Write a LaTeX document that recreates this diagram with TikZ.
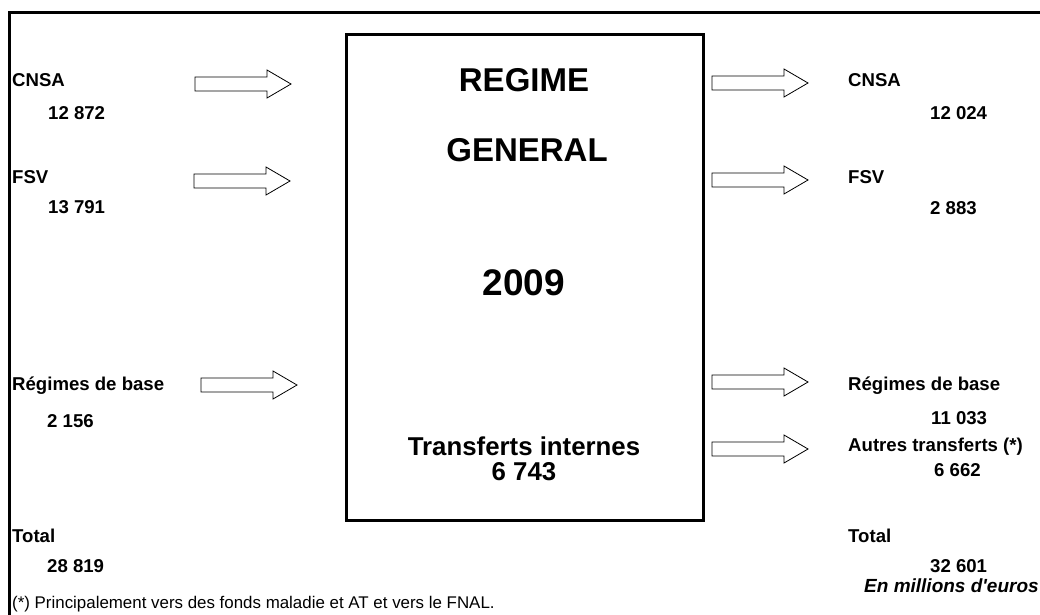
\documentclass[tikz,border=0pt]{standalone}
\usepackage{fontspec}
\setmainfont{Liberation Sans}
\begin{document}
\begin{tikzpicture}[x=1pt,y=-1pt,
  lbl/.style={anchor=west,inner sep=0pt,font=\bfseries\fontsize{18.6}{21}\selectfont},
  big/.style={inner sep=0pt,font=\bfseries\fontsize{33}{38}\selectfont},
  mid/.style={inner sep=0pt,font=\bfseries\fontsize{25.8}{30}\selectfont},
  note/.style={anchor=west,inner sep=0pt,font=\fontsize{16.9}{19}\selectfont},
  fatarrow/.pic={\draw[line width=0.8pt,fill=white] (0,-7)--(72,-7)--(72,-14)--(96,0)--(72,14)--(72,7)--(0,7)--cycle;}]
\useasboundingbox (0,0) rectangle (1040,614);
% outer frame
\draw[line width=3pt] (9,616)--(9,12)--(1042,12);
% central box
\node[draw,line width=3pt,minimum width=357pt,minimum height=486pt,inner sep=0pt] (box) at (524.5,277) {};
\node[big] (regime) at (524,80) {REGIME};
\node[big] (general) at (527,150) {GENERAL};
\node[big,font=\bfseries\fontsize{37}{42}\selectfont] (year) at (524,283) {2009};
\node[mid] (ti) at (524,446) {Transferts internes};
\node[mid] (tiv) at (524,472) {6 743};
% left side
\node[lbl] (lcnsa) at (12,80) {CNSA};
\node[lbl] (lcnsav) at (48,113) {12 872};
\node[lbl] (lfsv) at (12,177) {FSV};
\node[lbl] (lfsvv) at (48,207) {13 791};
\node[lbl] (lrb) at (12,386) {Régimes de base};
\node[lbl] (lrbv) at (47,421) {2 156};
\node[lbl] (ltot) at (12,536) {Total};
\node[lbl] (ltotv) at (47,566) {28 819};
\node[note] (foot) at (12,604) {(*) Principalement vers des fonds maladie et AT et vers le FNAL.};
% right side
\node[lbl] (rcnsa) at (848,80) {CNSA};
\node[lbl] (rcnsav) at (930,113) {12 024};
\node[lbl] (rfsv) at (848,177) {FSV};
\node[lbl] (rfsvv) at (930,208) {2 883};
\node[lbl] (rrb) at (848,386) {Régimes de base};
\node[lbl] (rrbv) at (931,418) {11 033};
\node[lbl] (raut) at (848,447) {Autres transferts (*)};
\node[lbl] (rautv) at (934,470) {6 662};
\node[lbl] (rtot) at (848,536) {Total};
\node[lbl] (rtotv) at (930,566) {32 601};
\node[lbl,font=\bfseries\itshape\fontsize{19}{22}\selectfont] (unit) at (864,586) {En millions d\textquotesingle euros};
% arrows
\pic at (195,84) {fatarrow};
\pic at (194,181) {fatarrow};
\pic at (201,385) {fatarrow};
\pic at (712,83) {fatarrow};
\pic at (712,180) {fatarrow};
\pic at (712,382) {fatarrow};
\pic at (712,449) {fatarrow};
\end{tikzpicture}
\end{document}
